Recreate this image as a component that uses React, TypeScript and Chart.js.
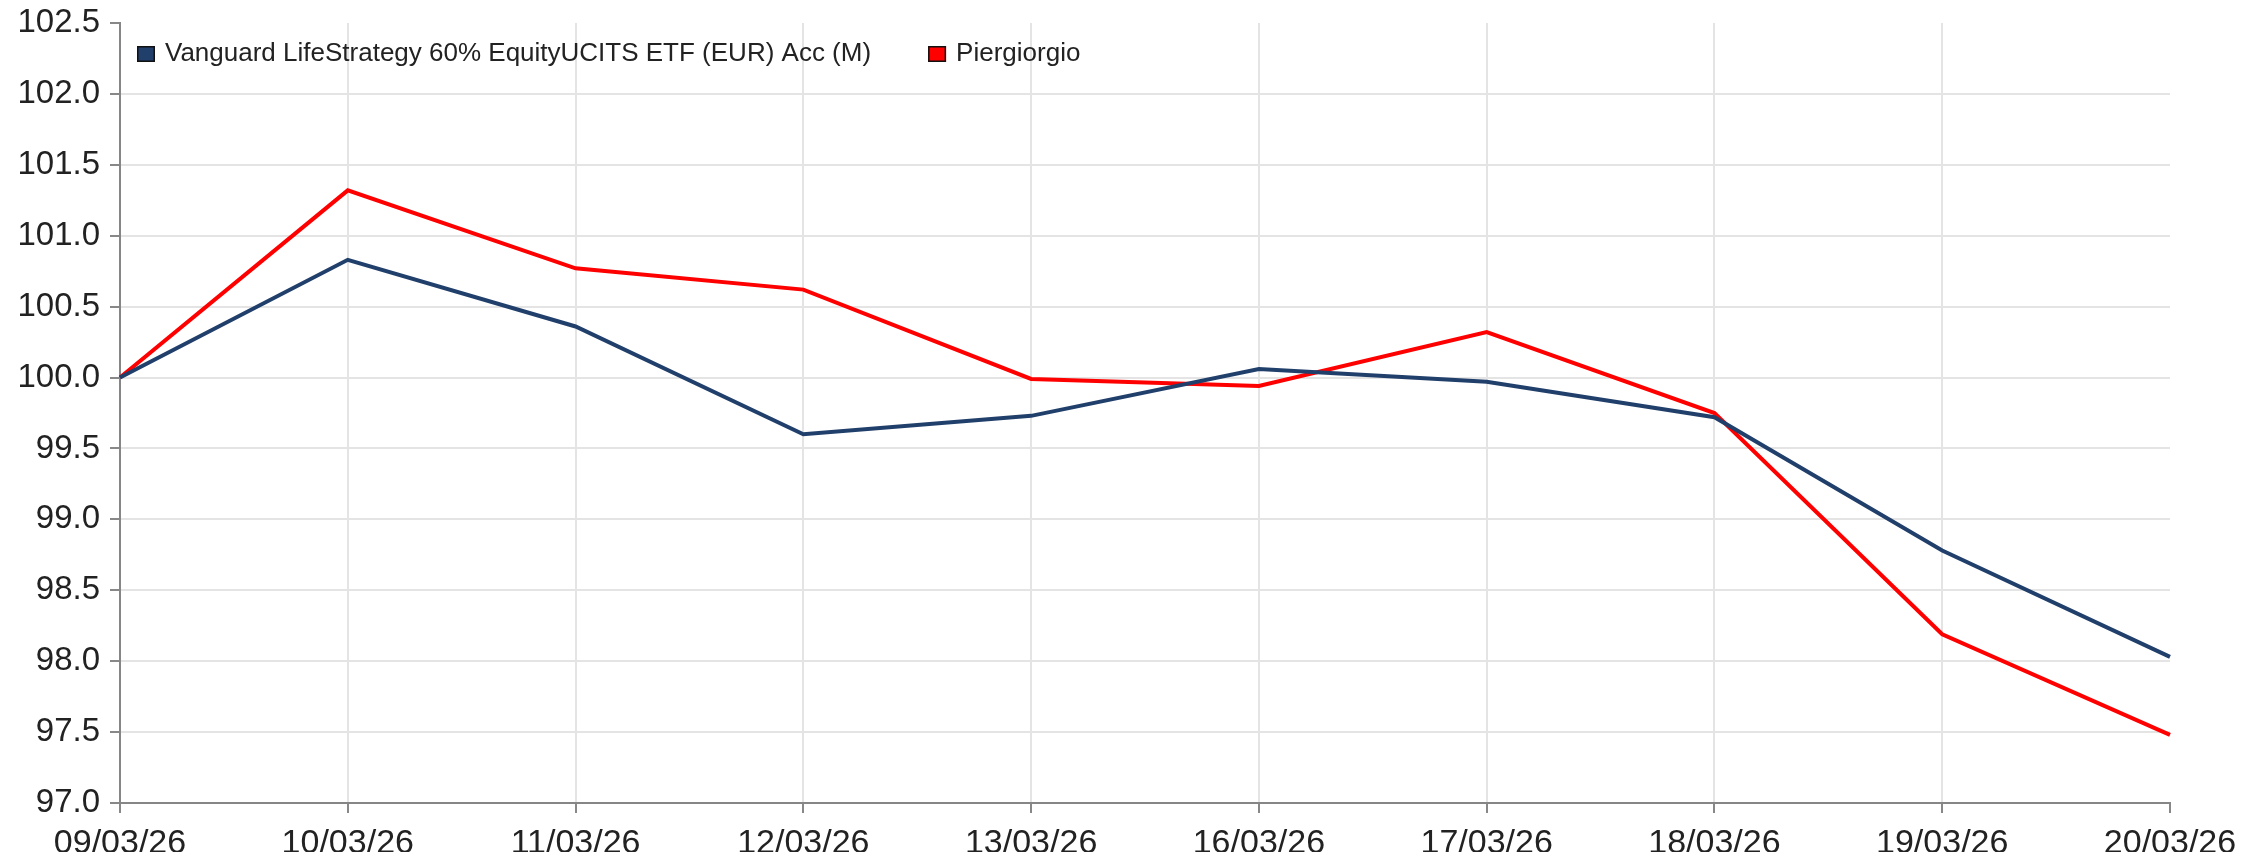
import { useEffect, useRef } from 'react';
import { Chart, registerables } from 'chart.js';

Chart.register(...registerables);

const dates = ['09/03/26', '10/03/26', '11/03/26', '12/03/26', '13/03/26', '16/03/26', '17/03/26', '18/03/26', '19/03/26', '20/03/26'];
const vanguard = [100.0, 100.83, 100.36, 99.6, 99.73, 100.06, 99.97, 99.72, 98.78, 98.03];
const piergiorgio = [100.0, 101.32, 100.77, 100.62, 99.99, 99.94, 100.32, 99.75, 98.19, 97.48];
const seriesNames = ['Vanguard LifeStrategy 60% EquityUCITS ETF (EUR) Acc (M)', 'Piergiorgio'];
const seriesColors = ['#213f6b', '#ff0000'];
const yMin = 97.0;
const yMax = 102.5;
const yStep = 0.5;

const FONT = '"Liberation Sans", Arial, sans-serif';

const legendPlugin = {
  id: 'insideLegend',
  afterDraw(chart: any) {
    const ctx = chart.ctx;
    ctx.save();
    ctx.font = `26px ${FONT}`;
    ctx.textBaseline = 'middle';
    let x = chart.chartArea.left + 17;
    const y = chart.chartArea.top + 31;
    chart.data.datasets.forEach((ds: any) => {
      ctx.fillStyle = ds.borderColor;
      ctx.fillRect(x, y - 8, 18, 16);
      ctx.strokeStyle = '#111';
      ctx.lineWidth = 1.5;
      ctx.strokeRect(x + 0.75, y - 7.25, 16.5, 14.5);
      ctx.fillStyle = '#222';
      ctx.fillText(ds.label, x + 28, y);
      x += 28 + ctx.measureText(ds.label).width + 57;
    });
    ctx.restore();
  },
};

export default function App() {
  const ref = useRef<HTMLCanvasElement>(null);
  useEffect(() => {
    document.body.style.margin = '0';
    const chart = new Chart(ref.current!, {
      type: 'line',
      data: {
        labels: dates,
        datasets: [
          { label: seriesNames[0], data: vanguard, borderColor: seriesColors[0], backgroundColor: seriesColors[0], borderWidth: 4, pointRadius: 0, tension: 0 },
          { label: seriesNames[1], data: piergiorgio, borderColor: seriesColors[1], backgroundColor: seriesColors[1], borderWidth: 4, pointRadius: 0, tension: 0 },
        ],
      },
      options: {
        animation: false,
        responsive: false,
        layout: { padding: { left: 0, right: 97, top: 23, bottom: 0 } },
        plugins: { legend: { display: false }, tooltip: { enabled: false } },
        scales: {
          x: {
            afterFit: (s: any) => { s.height = 49; s.paddingLeft = 0; s.paddingRight = 0; },
            grid: {
              color: (c: any) => (c.index === dates.length - 1 ? 'rgba(0,0,0,0)' : '#e4e4e4'),
              lineWidth: 2,
              tickColor: '#888',
              tickLength: 10,
            },
            border: { color: '#868686', width: 2 },
            ticks: { font: { family: FONT, size: 34 }, color: '#222', padding: 10, maxRotation: 0, autoSkip: false },
          },
          y: {
            min: yMin,
            max: yMax,
            afterFit: (s: any) => { s.width = 120; s.paddingTop = 0; s.paddingBottom = 0; },
            grid: {
              color: (c: any) => (c.tick && c.tick.value === yMax ? 'rgba(0,0,0,0)' : '#e4e4e4'),
              lineWidth: 2,
              tickColor: '#888',
              tickLength: 10,
            },
            border: { color: '#868686', width: 2 },
            ticks: {
              stepSize: yStep,
              font: { family: FONT, size: 33 },
              color: '#222',
              padding: 10,
              callback: (v: any) => Number(v).toFixed(1),
            },
          },
        },
      },
      plugins: [legendPlugin],
    });
    return () => chart.destroy();
  }, []);
  return (
    <div style={{ position: 'absolute', left: 0, top: 0, width: 2267, height: 852, background: '#fff' }}>
      <canvas ref={ref} width={2267} height={852} />
    </div>
  );
}
